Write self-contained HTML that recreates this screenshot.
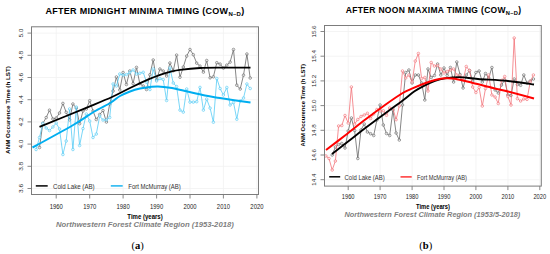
<!DOCTYPE html>
<html><head><meta charset="utf-8"><style>
html,body{margin:0;padding:0;background:#fff;width:550px;height:254px;overflow:hidden}
svg{display:block;font-family:"Liberation Sans",sans-serif}
</style></head><body>
<svg width="550" height="254" viewBox="0 0 550 254">
<rect width="550" height="254" fill="#fff"/>
<line x1="56.2" y1="26.8" x2="56.2" y2="194.5" stroke="#f1f1f1" stroke-width="0.8"/><line x1="89.7" y1="26.8" x2="89.7" y2="194.5" stroke="#f1f1f1" stroke-width="0.8"/><line x1="123.1" y1="26.8" x2="123.1" y2="194.5" stroke="#f1f1f1" stroke-width="0.8"/><line x1="156.6" y1="26.8" x2="156.6" y2="194.5" stroke="#f1f1f1" stroke-width="0.8"/><line x1="190" y1="26.8" x2="190" y2="194.5" stroke="#f1f1f1" stroke-width="0.8"/><line x1="223.4" y1="26.8" x2="223.4" y2="194.5" stroke="#f1f1f1" stroke-width="0.8"/><line x1="256.9" y1="26.8" x2="256.9" y2="194.5" stroke="#f1f1f1" stroke-width="0.8"/><line x1="31.5" y1="188.5" x2="258.5" y2="188.5" stroke="#f1f1f1" stroke-width="0.8"/><line x1="31.5" y1="166.3" x2="258.5" y2="166.3" stroke="#f1f1f1" stroke-width="0.8"/><line x1="31.5" y1="144.1" x2="258.5" y2="144.1" stroke="#f1f1f1" stroke-width="0.8"/><line x1="31.5" y1="121.9" x2="258.5" y2="121.9" stroke="#f1f1f1" stroke-width="0.8"/><line x1="31.5" y1="99.7" x2="258.5" y2="99.7" stroke="#f1f1f1" stroke-width="0.8"/><line x1="31.5" y1="77.5" x2="258.5" y2="77.5" stroke="#f1f1f1" stroke-width="0.8"/><line x1="31.5" y1="55.3" x2="258.5" y2="55.3" stroke="#f1f1f1" stroke-width="0.8"/><line x1="31.5" y1="33.1" x2="258.5" y2="33.1" stroke="#f1f1f1" stroke-width="0.8"/>
<line x1="348.2" y1="25.5" x2="348.2" y2="186.1" stroke="#f1f1f1" stroke-width="0.8"/><line x1="380.1" y1="25.5" x2="380.1" y2="186.1" stroke="#f1f1f1" stroke-width="0.8"/><line x1="412.1" y1="25.5" x2="412.1" y2="186.1" stroke="#f1f1f1" stroke-width="0.8"/><line x1="444" y1="25.5" x2="444" y2="186.1" stroke="#f1f1f1" stroke-width="0.8"/><line x1="475.9" y1="25.5" x2="475.9" y2="186.1" stroke="#f1f1f1" stroke-width="0.8"/><line x1="507.9" y1="25.5" x2="507.9" y2="186.1" stroke="#f1f1f1" stroke-width="0.8"/><line x1="539.8" y1="25.5" x2="539.8" y2="186.1" stroke="#f1f1f1" stroke-width="0.8"/><line x1="324.5" y1="179.7" x2="541.3" y2="179.7" stroke="#f1f1f1" stroke-width="0.8"/><line x1="324.5" y1="155" x2="541.3" y2="155" stroke="#f1f1f1" stroke-width="0.8"/><line x1="324.5" y1="130.3" x2="541.3" y2="130.3" stroke="#f1f1f1" stroke-width="0.8"/><line x1="324.5" y1="105.6" x2="541.3" y2="105.6" stroke="#f1f1f1" stroke-width="0.8"/><line x1="324.5" y1="80.9" x2="541.3" y2="80.9" stroke="#f1f1f1" stroke-width="0.8"/><line x1="324.5" y1="56.2" x2="541.3" y2="56.2" stroke="#f1f1f1" stroke-width="0.8"/><line x1="324.5" y1="31.5" x2="541.3" y2="31.5" stroke="#f1f1f1" stroke-width="0.8"/>
<polyline fill="none" stroke="#5e5e5e" stroke-width="0.75" stroke-linejoin="round" points="39.5,147.5 42.8,123.4 46.2,117.6 49.5,110.2 52.9,119 56.2,118 59.5,113 62.9,103.4 66.2,112.3 69.6,119.8 72.9,104 76.3,108 79.6,123.7 83,111 86.3,109 89.7,100.7 93,111 96.3,119.5 99.7,114.5 103,110.5 106.4,122 109.7,104 113.1,91 116.4,77 119.8,90 123.1,72.5 126.4,84.5 129.8,71 133.1,83.6 136.5,67.4 139.8,83.6 143.2,86 146.5,89.5 149.9,74.8 153.2,60 156.6,80 159.9,69 163.2,71 166.6,76 169.9,63 173.3,70.7 176.6,55.1 180,77.2 183.3,67 186.7,56.1 190,49.5 193.3,54.7 196.7,63.1 200,66.1 203.4,72.1 206.7,60.5 210.1,77.8 213.4,76.8 216.8,62.7 220.1,64.1 223.4,68.1 226.8,65.1 230.1,62.1 233.5,49.5 236.8,85.2 240.2,89 243.5,75.2 246.9,54 250.2,78"/><g fill="#fff" fill-opacity="0.6" stroke="#5e5e5e" stroke-width="0.6"><circle cx="39.5" cy="147.5" r="1.3"/><circle cx="42.8" cy="123.4" r="1.3"/><circle cx="46.2" cy="117.6" r="1.3"/><circle cx="49.5" cy="110.2" r="1.3"/><circle cx="52.9" cy="119" r="1.3"/><circle cx="56.2" cy="118" r="1.3"/><circle cx="59.5" cy="113" r="1.3"/><circle cx="62.9" cy="103.4" r="1.3"/><circle cx="66.2" cy="112.3" r="1.3"/><circle cx="69.6" cy="119.8" r="1.3"/><circle cx="72.9" cy="104" r="1.3"/><circle cx="76.3" cy="108" r="1.3"/><circle cx="79.6" cy="123.7" r="1.3"/><circle cx="83" cy="111" r="1.3"/><circle cx="86.3" cy="109" r="1.3"/><circle cx="89.7" cy="100.7" r="1.3"/><circle cx="93" cy="111" r="1.3"/><circle cx="96.3" cy="119.5" r="1.3"/><circle cx="99.7" cy="114.5" r="1.3"/><circle cx="103" cy="110.5" r="1.3"/><circle cx="106.4" cy="122" r="1.3"/><circle cx="109.7" cy="104" r="1.3"/><circle cx="113.1" cy="91" r="1.3"/><circle cx="116.4" cy="77" r="1.3"/><circle cx="119.8" cy="90" r="1.3"/><circle cx="123.1" cy="72.5" r="1.3"/><circle cx="126.4" cy="84.5" r="1.3"/><circle cx="129.8" cy="71" r="1.3"/><circle cx="133.1" cy="83.6" r="1.3"/><circle cx="136.5" cy="67.4" r="1.3"/><circle cx="139.8" cy="83.6" r="1.3"/><circle cx="143.2" cy="86" r="1.3"/><circle cx="146.5" cy="89.5" r="1.3"/><circle cx="149.9" cy="74.8" r="1.3"/><circle cx="153.2" cy="60" r="1.3"/><circle cx="156.6" cy="80" r="1.3"/><circle cx="159.9" cy="69" r="1.3"/><circle cx="163.2" cy="71" r="1.3"/><circle cx="166.6" cy="76" r="1.3"/><circle cx="169.9" cy="63" r="1.3"/><circle cx="173.3" cy="70.7" r="1.3"/><circle cx="176.6" cy="55.1" r="1.3"/><circle cx="180" cy="77.2" r="1.3"/><circle cx="183.3" cy="67" r="1.3"/><circle cx="186.7" cy="56.1" r="1.3"/><circle cx="190" cy="49.5" r="1.3"/><circle cx="193.3" cy="54.7" r="1.3"/><circle cx="196.7" cy="63.1" r="1.3"/><circle cx="200" cy="66.1" r="1.3"/><circle cx="203.4" cy="72.1" r="1.3"/><circle cx="206.7" cy="60.5" r="1.3"/><circle cx="210.1" cy="77.8" r="1.3"/><circle cx="213.4" cy="76.8" r="1.3"/><circle cx="216.8" cy="62.7" r="1.3"/><circle cx="220.1" cy="64.1" r="1.3"/><circle cx="223.4" cy="68.1" r="1.3"/><circle cx="226.8" cy="65.1" r="1.3"/><circle cx="230.1" cy="62.1" r="1.3"/><circle cx="233.5" cy="49.5" r="1.3"/><circle cx="236.8" cy="85.2" r="1.3"/><circle cx="240.2" cy="89" r="1.3"/><circle cx="243.5" cy="75.2" r="1.3"/><circle cx="246.9" cy="54" r="1.3"/><circle cx="250.2" cy="78" r="1.3"/></g>
<polyline fill="none" stroke="#4cc8f4" stroke-width="0.75" stroke-linejoin="round" points="36.1,149.5 39.5,137.5 42.8,123.5 46.2,128 49.5,130.5 52.9,127 56.2,123 59.5,129 62.9,154.5 66.2,141 69.6,109 72.9,149.5 76.3,107 79.6,145.5 83,128.6 86.3,114 89.7,121 93,137.5 96.3,134 99.7,116 103,120 106.4,120 109.7,117.5 113.1,84 116.4,86 119.8,74 123.1,75 126.4,74.5 129.8,72.5 133.1,70 136.5,74 139.8,73.3 143.2,72.3 146.5,82.2 149.9,89.5 153.2,69 156.6,81 159.9,78.5 163.2,79.5 166.6,100.5 169.9,68 173.3,83 176.6,86.6 180,110.1 183.3,112.1 186.7,89 190,102.1 193.3,102.1 196.7,101.7 200,87.4 203.4,110.1 206.7,99.1 210.1,108.1 213.4,122.2 216.8,78.5 220.1,88.5 223.4,95 226.8,87.5 230.1,105 233.5,102.5 236.8,119.2 240.2,101 243.5,98 246.9,84 250.2,88.5"/><g fill="#fff" fill-opacity="0.6" stroke="#4cc8f4" stroke-width="0.6"><circle cx="36.1" cy="149.5" r="1.3"/><circle cx="39.5" cy="137.5" r="1.3"/><circle cx="42.8" cy="123.5" r="1.3"/><circle cx="46.2" cy="128" r="1.3"/><circle cx="49.5" cy="130.5" r="1.3"/><circle cx="52.9" cy="127" r="1.3"/><circle cx="56.2" cy="123" r="1.3"/><circle cx="59.5" cy="129" r="1.3"/><circle cx="62.9" cy="154.5" r="1.3"/><circle cx="66.2" cy="141" r="1.3"/><circle cx="69.6" cy="109" r="1.3"/><circle cx="72.9" cy="149.5" r="1.3"/><circle cx="76.3" cy="107" r="1.3"/><circle cx="79.6" cy="145.5" r="1.3"/><circle cx="83" cy="128.6" r="1.3"/><circle cx="86.3" cy="114" r="1.3"/><circle cx="89.7" cy="121" r="1.3"/><circle cx="93" cy="137.5" r="1.3"/><circle cx="96.3" cy="134" r="1.3"/><circle cx="99.7" cy="116" r="1.3"/><circle cx="103" cy="120" r="1.3"/><circle cx="106.4" cy="120" r="1.3"/><circle cx="109.7" cy="117.5" r="1.3"/><circle cx="113.1" cy="84" r="1.3"/><circle cx="116.4" cy="86" r="1.3"/><circle cx="119.8" cy="74" r="1.3"/><circle cx="123.1" cy="75" r="1.3"/><circle cx="126.4" cy="74.5" r="1.3"/><circle cx="129.8" cy="72.5" r="1.3"/><circle cx="133.1" cy="70" r="1.3"/><circle cx="136.5" cy="74" r="1.3"/><circle cx="139.8" cy="73.3" r="1.3"/><circle cx="143.2" cy="72.3" r="1.3"/><circle cx="146.5" cy="82.2" r="1.3"/><circle cx="149.9" cy="89.5" r="1.3"/><circle cx="153.2" cy="69" r="1.3"/><circle cx="156.6" cy="81" r="1.3"/><circle cx="159.9" cy="78.5" r="1.3"/><circle cx="163.2" cy="79.5" r="1.3"/><circle cx="166.6" cy="100.5" r="1.3"/><circle cx="169.9" cy="68" r="1.3"/><circle cx="173.3" cy="83" r="1.3"/><circle cx="176.6" cy="86.6" r="1.3"/><circle cx="180" cy="110.1" r="1.3"/><circle cx="183.3" cy="112.1" r="1.3"/><circle cx="186.7" cy="89" r="1.3"/><circle cx="190" cy="102.1" r="1.3"/><circle cx="193.3" cy="102.1" r="1.3"/><circle cx="196.7" cy="101.7" r="1.3"/><circle cx="200" cy="87.4" r="1.3"/><circle cx="203.4" cy="110.1" r="1.3"/><circle cx="206.7" cy="99.1" r="1.3"/><circle cx="210.1" cy="108.1" r="1.3"/><circle cx="213.4" cy="122.2" r="1.3"/><circle cx="216.8" cy="78.5" r="1.3"/><circle cx="220.1" cy="88.5" r="1.3"/><circle cx="223.4" cy="95" r="1.3"/><circle cx="226.8" cy="87.5" r="1.3"/><circle cx="230.1" cy="105" r="1.3"/><circle cx="233.5" cy="102.5" r="1.3"/><circle cx="236.8" cy="119.2" r="1.3"/><circle cx="240.2" cy="101" r="1.3"/><circle cx="243.5" cy="98" r="1.3"/><circle cx="246.9" cy="84" r="1.3"/><circle cx="250.2" cy="88.5" r="1.3"/></g>
<path fill="none" stroke="#000" stroke-width="1.85" stroke-linecap="butt" d="M39.5,126.9 C47.1,123.8 72.9,113.3 85,108.3 C97.1,103.3 104.5,100.4 112,97 C119.5,93.6 123.8,91 130,88 C136.2,85 144,81.4 149,79.2 C154,77 156.5,76 160,74.8 C163.5,73.6 166.7,72.6 170,71.8 C173.3,71 175,70.4 180,69.8 C185,69.2 192.5,68.4 200,68 C207.5,67.6 216.6,67.7 225,67.6 C233.4,67.5 246.2,67.6 250.5,67.6"/>
<path fill="none" stroke="#00aef0" stroke-width="2.0" stroke-linecap="butt" d="M32.5,147.5 C39.3,143.8 63,130.9 73.2,125 C83.4,119.1 87.2,115.8 93.5,112 C99.8,108.2 106.6,105.2 111,102.5 C115.4,99.8 116.8,97.8 120,96 C123.2,94.2 126.7,92.8 130,91.5 C133.3,90.2 136.7,89.2 140,88.5 C143.3,87.8 147,87.3 150,87 C153,86.7 154.7,86.4 158,86.5 C161.3,86.6 165.5,87 170,87.8 C174.5,88.5 179.2,89.7 185,91 C190.8,92.3 199.2,94.3 205,95.5 C210.8,96.7 212.4,96.8 220,98 C227.6,99.2 245.4,101.8 250.5,102.5"/>
<polyline fill="none" stroke="#5e5e5e" stroke-width="0.75" stroke-linejoin="round" points="332.2,155 335.4,147 338.6,144.5 341.8,143.5 345,148 348.2,131 351.4,118 354.6,130.5 357.8,158.5 361,130 364.2,124 367.4,132 370.6,133.7 373.7,135.5 376.9,120 380.1,105 383.3,125 386.5,133.5 389.7,135.5 392.9,110 396.1,133 399.3,140 402.5,105 405.7,72.5 408.9,70 412.1,83 415.3,75 418.4,75 421.6,83 424.8,100 428,69 431.2,77.5 434.4,75.5 437.6,64 440.8,75 444,68 447.2,75.5 450.4,67.5 453.6,82 456.8,62 460,74.5 463.1,88 466.3,75 469.5,70.5 472.7,81 475.9,72.5 479.1,71 482.3,82 485.5,73.5 488.7,78 491.9,67.5 495.1,90 498.3,93 501.5,85 504.7,80 507.9,95 511,95.5 514.2,79 517.4,84.5 520.6,85.3 523.8,75 527,83 530.2,81 533.4,79"/><g fill="#fff" fill-opacity="0.6" stroke="#5e5e5e" stroke-width="0.6"><circle cx="332.2" cy="155" r="1.3"/><circle cx="335.4" cy="147" r="1.3"/><circle cx="338.6" cy="144.5" r="1.3"/><circle cx="341.8" cy="143.5" r="1.3"/><circle cx="345" cy="148" r="1.3"/><circle cx="348.2" cy="131" r="1.3"/><circle cx="351.4" cy="118" r="1.3"/><circle cx="354.6" cy="130.5" r="1.3"/><circle cx="357.8" cy="158.5" r="1.3"/><circle cx="361" cy="130" r="1.3"/><circle cx="364.2" cy="124" r="1.3"/><circle cx="367.4" cy="132" r="1.3"/><circle cx="370.6" cy="133.7" r="1.3"/><circle cx="373.7" cy="135.5" r="1.3"/><circle cx="376.9" cy="120" r="1.3"/><circle cx="380.1" cy="105" r="1.3"/><circle cx="383.3" cy="125" r="1.3"/><circle cx="386.5" cy="133.5" r="1.3"/><circle cx="389.7" cy="135.5" r="1.3"/><circle cx="392.9" cy="110" r="1.3"/><circle cx="396.1" cy="133" r="1.3"/><circle cx="399.3" cy="140" r="1.3"/><circle cx="402.5" cy="105" r="1.3"/><circle cx="405.7" cy="72.5" r="1.3"/><circle cx="408.9" cy="70" r="1.3"/><circle cx="412.1" cy="83" r="1.3"/><circle cx="415.3" cy="75" r="1.3"/><circle cx="418.4" cy="75" r="1.3"/><circle cx="421.6" cy="83" r="1.3"/><circle cx="424.8" cy="100" r="1.3"/><circle cx="428" cy="69" r="1.3"/><circle cx="431.2" cy="77.5" r="1.3"/><circle cx="434.4" cy="75.5" r="1.3"/><circle cx="437.6" cy="64" r="1.3"/><circle cx="440.8" cy="75" r="1.3"/><circle cx="444" cy="68" r="1.3"/><circle cx="447.2" cy="75.5" r="1.3"/><circle cx="450.4" cy="67.5" r="1.3"/><circle cx="453.6" cy="82" r="1.3"/><circle cx="456.8" cy="62" r="1.3"/><circle cx="460" cy="74.5" r="1.3"/><circle cx="463.1" cy="88" r="1.3"/><circle cx="466.3" cy="75" r="1.3"/><circle cx="469.5" cy="70.5" r="1.3"/><circle cx="472.7" cy="81" r="1.3"/><circle cx="475.9" cy="72.5" r="1.3"/><circle cx="479.1" cy="71" r="1.3"/><circle cx="482.3" cy="82" r="1.3"/><circle cx="485.5" cy="73.5" r="1.3"/><circle cx="488.7" cy="78" r="1.3"/><circle cx="491.9" cy="67.5" r="1.3"/><circle cx="495.1" cy="90" r="1.3"/><circle cx="498.3" cy="93" r="1.3"/><circle cx="501.5" cy="85" r="1.3"/><circle cx="504.7" cy="80" r="1.3"/><circle cx="507.9" cy="95" r="1.3"/><circle cx="511" cy="95.5" r="1.3"/><circle cx="514.2" cy="79" r="1.3"/><circle cx="517.4" cy="84.5" r="1.3"/><circle cx="520.6" cy="85.3" r="1.3"/><circle cx="523.8" cy="75" r="1.3"/><circle cx="527" cy="83" r="1.3"/><circle cx="530.2" cy="81" r="1.3"/><circle cx="533.4" cy="79" r="1.3"/></g>
<polyline fill="none" stroke="#f26a70" stroke-width="0.75" stroke-linejoin="round" points="325.9,156 329,158.5 332.2,170 335.4,161 338.6,126 341.8,125.5 345,115.5 348.2,123 351.4,87 354.6,124 357.8,119.5 361,116.5 364.2,115 367.4,113.3 370.6,118.5 373.7,114 376.9,109.5 380.1,111 383.3,110.8 386.5,115.3 389.7,108 392.9,108.4 396.1,119.7 399.3,105.9 402.5,71 405.7,78 408.9,75 412.1,82 415.3,61 418.4,53.5 421.6,78.5 424.8,77.5 428,91 431.2,62.5 434.4,66 437.6,65.5 440.8,69 444,73 447.2,71.5 450.4,70 453.6,69 456.8,75 460,76 463.1,80 466.3,66.5 469.5,70.5 472.7,87 475.9,92.5 479.1,87.5 482.3,106 485.5,88.5 488.7,75 491.9,95 495.1,97 498.3,103.5 501.5,80.5 504.7,76.5 507.9,96.5 511,105 514.2,38 517.4,98.7 520.6,101 523.8,99 527,99.4 530.2,82 533.4,75"/><g fill="#fff" fill-opacity="0.6" stroke="#f26a70" stroke-width="0.6"><circle cx="325.9" cy="156" r="1.3"/><circle cx="329" cy="158.5" r="1.3"/><circle cx="332.2" cy="170" r="1.3"/><circle cx="335.4" cy="161" r="1.3"/><circle cx="338.6" cy="126" r="1.3"/><circle cx="341.8" cy="125.5" r="1.3"/><circle cx="345" cy="115.5" r="1.3"/><circle cx="348.2" cy="123" r="1.3"/><circle cx="351.4" cy="87" r="1.3"/><circle cx="354.6" cy="124" r="1.3"/><circle cx="357.8" cy="119.5" r="1.3"/><circle cx="361" cy="116.5" r="1.3"/><circle cx="364.2" cy="115" r="1.3"/><circle cx="367.4" cy="113.3" r="1.3"/><circle cx="370.6" cy="118.5" r="1.3"/><circle cx="373.7" cy="114" r="1.3"/><circle cx="376.9" cy="109.5" r="1.3"/><circle cx="380.1" cy="111" r="1.3"/><circle cx="383.3" cy="110.8" r="1.3"/><circle cx="386.5" cy="115.3" r="1.3"/><circle cx="389.7" cy="108" r="1.3"/><circle cx="392.9" cy="108.4" r="1.3"/><circle cx="396.1" cy="119.7" r="1.3"/><circle cx="399.3" cy="105.9" r="1.3"/><circle cx="402.5" cy="71" r="1.3"/><circle cx="405.7" cy="78" r="1.3"/><circle cx="408.9" cy="75" r="1.3"/><circle cx="412.1" cy="82" r="1.3"/><circle cx="415.3" cy="61" r="1.3"/><circle cx="418.4" cy="53.5" r="1.3"/><circle cx="421.6" cy="78.5" r="1.3"/><circle cx="424.8" cy="77.5" r="1.3"/><circle cx="428" cy="91" r="1.3"/><circle cx="431.2" cy="62.5" r="1.3"/><circle cx="434.4" cy="66" r="1.3"/><circle cx="437.6" cy="65.5" r="1.3"/><circle cx="440.8" cy="69" r="1.3"/><circle cx="444" cy="73" r="1.3"/><circle cx="447.2" cy="71.5" r="1.3"/><circle cx="450.4" cy="70" r="1.3"/><circle cx="453.6" cy="69" r="1.3"/><circle cx="456.8" cy="75" r="1.3"/><circle cx="460" cy="76" r="1.3"/><circle cx="463.1" cy="80" r="1.3"/><circle cx="466.3" cy="66.5" r="1.3"/><circle cx="469.5" cy="70.5" r="1.3"/><circle cx="472.7" cy="87" r="1.3"/><circle cx="475.9" cy="92.5" r="1.3"/><circle cx="479.1" cy="87.5" r="1.3"/><circle cx="482.3" cy="106" r="1.3"/><circle cx="485.5" cy="88.5" r="1.3"/><circle cx="488.7" cy="75" r="1.3"/><circle cx="491.9" cy="95" r="1.3"/><circle cx="495.1" cy="97" r="1.3"/><circle cx="498.3" cy="103.5" r="1.3"/><circle cx="501.5" cy="80.5" r="1.3"/><circle cx="504.7" cy="76.5" r="1.3"/><circle cx="507.9" cy="96.5" r="1.3"/><circle cx="511" cy="105" r="1.3"/><circle cx="514.2" cy="38" r="1.3"/><circle cx="517.4" cy="98.7" r="1.3"/><circle cx="520.6" cy="101" r="1.3"/><circle cx="523.8" cy="99" r="1.3"/><circle cx="527" cy="99.4" r="1.3"/><circle cx="530.2" cy="82" r="1.3"/><circle cx="533.4" cy="75" r="1.3"/></g>
<path fill="none" stroke="#000" stroke-width="1.85" stroke-linecap="butt" d="M332,154 C335,151.7 344.5,144.3 350,140 C355.5,135.7 359.2,132.7 365,128.3 C370.8,123.9 378.7,118.1 385,113.5 C391.3,108.9 397.8,104.3 402.7,100.6 C407.6,96.9 410.8,93.8 414.5,91.2 C418.2,88.7 421.6,87 425,85.3 C428.4,83.6 431.7,82 435,80.8 C438.3,79.6 440.8,78.9 445,78.3 C449.2,77.7 454.5,77.1 460,77.2 C465.5,77.3 470,78.4 478,79 C486,79.6 498.7,80.1 508,81 C517.3,81.9 529.7,83.9 534,84.5"/>
<path fill="none" stroke="#f00" stroke-width="2.0" stroke-linecap="butt" d="M326,150 C329.2,147.6 338.5,140.5 345,135.5 C351.5,130.5 358.3,124.9 365,119.8 C371.7,114.7 378.7,109.5 385,105 C391.3,100.5 398,95.8 402.7,93 C407.4,90.2 409.3,89.8 413,88.2 C416.7,86.6 421.3,84.7 425,83.3 C428.7,81.9 431.7,80.8 435,80 C438.3,79.2 441.7,78.5 445,78.3 C448.3,78.1 450.3,78 455,78.8 C459.7,79.6 466.7,81.5 473,83 C479.3,84.5 487.2,86.6 493,88 C498.8,89.4 501.2,89.8 508,91.5 C514.8,93.2 529.7,97.3 534,98.5"/>
<rect x="31.5" y="26.8" width="227" height="167.7" fill="none" stroke="#7c7c7c" stroke-width="1.0"/><line x1="56.2" y1="194.5" x2="56.2" y2="198.5" stroke="#7c7c7c" stroke-width="0.9"/><g transform="translate(56.2,208.6) scale(1,1.3)"><text x="0" y="0" font-size="5.9" text-anchor="middle" fill="#222">1960</text></g><line x1="89.7" y1="194.5" x2="89.7" y2="198.5" stroke="#7c7c7c" stroke-width="0.9"/><g transform="translate(89.7,208.6) scale(1,1.3)"><text x="0" y="0" font-size="5.9" text-anchor="middle" fill="#222">1970</text></g><line x1="123.1" y1="194.5" x2="123.1" y2="198.5" stroke="#7c7c7c" stroke-width="0.9"/><g transform="translate(123.1,208.6) scale(1,1.3)"><text x="0" y="0" font-size="5.9" text-anchor="middle" fill="#222">1980</text></g><line x1="156.6" y1="194.5" x2="156.6" y2="198.5" stroke="#7c7c7c" stroke-width="0.9"/><g transform="translate(156.6,208.6) scale(1,1.3)"><text x="0" y="0" font-size="5.9" text-anchor="middle" fill="#222">1990</text></g><line x1="190" y1="194.5" x2="190" y2="198.5" stroke="#7c7c7c" stroke-width="0.9"/><g transform="translate(190,208.6) scale(1,1.3)"><text x="0" y="0" font-size="5.9" text-anchor="middle" fill="#222">2000</text></g><line x1="223.4" y1="194.5" x2="223.4" y2="198.5" stroke="#7c7c7c" stroke-width="0.9"/><g transform="translate(223.4,208.6) scale(1,1.3)"><text x="0" y="0" font-size="5.9" text-anchor="middle" fill="#222">2010</text></g><line x1="256.9" y1="194.5" x2="256.9" y2="198.5" stroke="#7c7c7c" stroke-width="0.9"/><g transform="translate(256.9,208.6) scale(1,1.3)"><text x="0" y="0" font-size="5.9" text-anchor="middle" fill="#222">2020</text></g><line x1="27.5" y1="188.5" x2="31.5" y2="188.5" stroke="#7c7c7c" stroke-width="0.9"/><text transform="translate(22.6,188.5) rotate(-90) scale(1,0.87)" font-size="6.490000000000001" text-anchor="middle" fill="#222">3.6</text><line x1="27.5" y1="166.3" x2="31.5" y2="166.3" stroke="#7c7c7c" stroke-width="0.9"/><text transform="translate(22.6,166.3) rotate(-90) scale(1,0.87)" font-size="6.490000000000001" text-anchor="middle" fill="#222">3.8</text><line x1="27.5" y1="144.1" x2="31.5" y2="144.1" stroke="#7c7c7c" stroke-width="0.9"/><text transform="translate(22.6,144.1) rotate(-90) scale(1,0.87)" font-size="6.490000000000001" text-anchor="middle" fill="#222">4.0</text><line x1="27.5" y1="121.9" x2="31.5" y2="121.9" stroke="#7c7c7c" stroke-width="0.9"/><text transform="translate(22.6,121.9) rotate(-90) scale(1,0.87)" font-size="6.490000000000001" text-anchor="middle" fill="#222">4.2</text><line x1="27.5" y1="99.7" x2="31.5" y2="99.7" stroke="#7c7c7c" stroke-width="0.9"/><text transform="translate(22.6,99.7) rotate(-90) scale(1,0.87)" font-size="6.490000000000001" text-anchor="middle" fill="#222">4.4</text><line x1="27.5" y1="77.5" x2="31.5" y2="77.5" stroke="#7c7c7c" stroke-width="0.9"/><text transform="translate(22.6,77.5) rotate(-90) scale(1,0.87)" font-size="6.490000000000001" text-anchor="middle" fill="#222">4.6</text><line x1="27.5" y1="55.3" x2="31.5" y2="55.3" stroke="#7c7c7c" stroke-width="0.9"/><text transform="translate(22.6,55.3) rotate(-90) scale(1,0.87)" font-size="6.490000000000001" text-anchor="middle" fill="#222">4.8</text><line x1="27.5" y1="33.1" x2="31.5" y2="33.1" stroke="#7c7c7c" stroke-width="0.9"/><text transform="translate(22.6,33.1) rotate(-90) scale(1,0.87)" font-size="6.490000000000001" text-anchor="middle" fill="#222">5.0</text>
<rect x="324.5" y="25.5" width="216.8" height="160.6" fill="none" stroke="#7c7c7c" stroke-width="1.0"/><line x1="348.2" y1="186.1" x2="348.2" y2="190.1" stroke="#7c7c7c" stroke-width="0.9"/><g transform="translate(348.2,198.9) scale(1,1.3)"><text x="0" y="0" font-size="5.7" text-anchor="middle" fill="#222">1960</text></g><line x1="380.1" y1="186.1" x2="380.1" y2="190.1" stroke="#7c7c7c" stroke-width="0.9"/><g transform="translate(380.1,198.9) scale(1,1.3)"><text x="0" y="0" font-size="5.7" text-anchor="middle" fill="#222">1970</text></g><line x1="412.1" y1="186.1" x2="412.1" y2="190.1" stroke="#7c7c7c" stroke-width="0.9"/><g transform="translate(412.1,198.9) scale(1,1.3)"><text x="0" y="0" font-size="5.7" text-anchor="middle" fill="#222">1980</text></g><line x1="444" y1="186.1" x2="444" y2="190.1" stroke="#7c7c7c" stroke-width="0.9"/><g transform="translate(444,198.9) scale(1,1.3)"><text x="0" y="0" font-size="5.7" text-anchor="middle" fill="#222">1990</text></g><line x1="475.9" y1="186.1" x2="475.9" y2="190.1" stroke="#7c7c7c" stroke-width="0.9"/><g transform="translate(475.9,198.9) scale(1,1.3)"><text x="0" y="0" font-size="5.7" text-anchor="middle" fill="#222">2000</text></g><line x1="507.9" y1="186.1" x2="507.9" y2="190.1" stroke="#7c7c7c" stroke-width="0.9"/><g transform="translate(507.9,198.9) scale(1,1.3)"><text x="0" y="0" font-size="5.7" text-anchor="middle" fill="#222">2010</text></g><line x1="539.8" y1="186.1" x2="539.8" y2="190.1" stroke="#7c7c7c" stroke-width="0.9"/><g transform="translate(539.8,198.9) scale(1,1.3)"><text x="0" y="0" font-size="5.7" text-anchor="middle" fill="#222">2020</text></g><line x1="320.5" y1="179.7" x2="324.5" y2="179.7" stroke="#7c7c7c" stroke-width="0.9"/><text transform="translate(316,179.7) rotate(-90) scale(1,0.87)" font-size="6.2700000000000005" text-anchor="middle" fill="#222">14.4</text><line x1="320.5" y1="155" x2="324.5" y2="155" stroke="#7c7c7c" stroke-width="0.9"/><text transform="translate(316,155) rotate(-90) scale(1,0.87)" font-size="6.2700000000000005" text-anchor="middle" fill="#222">14.6</text><line x1="320.5" y1="130.3" x2="324.5" y2="130.3" stroke="#7c7c7c" stroke-width="0.9"/><text transform="translate(316,130.3) rotate(-90) scale(1,0.87)" font-size="6.2700000000000005" text-anchor="middle" fill="#222">14.8</text><line x1="320.5" y1="105.6" x2="324.5" y2="105.6" stroke="#7c7c7c" stroke-width="0.9"/><text transform="translate(316,105.6) rotate(-90) scale(1,0.87)" font-size="6.2700000000000005" text-anchor="middle" fill="#222">15.0</text><line x1="320.5" y1="80.9" x2="324.5" y2="80.9" stroke="#7c7c7c" stroke-width="0.9"/><text transform="translate(316,80.9) rotate(-90) scale(1,0.87)" font-size="6.2700000000000005" text-anchor="middle" fill="#222">15.2</text><line x1="320.5" y1="56.2" x2="324.5" y2="56.2" stroke="#7c7c7c" stroke-width="0.9"/><text transform="translate(316,56.2) rotate(-90) scale(1,0.87)" font-size="6.2700000000000005" text-anchor="middle" fill="#222">15.4</text><line x1="320.5" y1="31.5" x2="324.5" y2="31.5" stroke="#7c7c7c" stroke-width="0.9"/><text transform="translate(316,31.5) rotate(-90) scale(1,0.87)" font-size="6.2700000000000005" text-anchor="middle" fill="#222">15.6</text>
<line x1="35.8" y1="185.9" x2="47.7" y2="185.9" stroke="#000" stroke-width="1.5"/>
<g transform="translate(53,189) scale(1,1.2)"><text x="0" y="0" font-size="6.15" text-anchor="start" fill="#333">Cold Lake (AB)</text></g>
<line x1="110.8" y1="185.9" x2="122.7" y2="185.9" stroke="#1ab4f0" stroke-width="1.5"/>
<g transform="translate(128.3,189) scale(1,1.2)"><text x="0" y="0" font-size="6.0" text-anchor="start" fill="#333">Fort McMurray (AB)</text></g>
<line x1="329.2" y1="176.8" x2="340.2" y2="176.8" stroke="#000" stroke-width="1.5"/>
<g transform="translate(344.6,180) scale(1,1.2)"><text x="0" y="0" font-size="5.93" text-anchor="start" fill="#333">Cold Lake (AB)</text></g>
<line x1="400.5" y1="176.9" x2="411.7" y2="176.9" stroke="#f33" stroke-width="1.5"/>
<g transform="translate(417.1,180) scale(1,1.2)"><text x="0" y="0" font-size="5.7" text-anchor="start" fill="#333">Fort McMurray (AB)</text></g>
<g transform="translate(45.5,14) scale(1,1.0)"><text x="0" y="0" font-size="9.0" text-anchor="start" font-weight="bold" fill="#000" letter-spacing="0.28">AFTER MIDNIGHT MINIMA TIMING (COW<tspan font-size="6.0" dy="1.5">N–D</tspan><tspan dy="-1.5">)</tspan></text></g>
<g transform="translate(345.8,13.4) scale(1,1.0)"><text x="0" y="0" font-size="8.5" text-anchor="start" font-weight="bold" fill="#000" letter-spacing="0.32">AFTER NOON MAXIMA TIMING (COW<tspan font-size="5.7" dy="1.5">N–D</tspan><tspan dy="-1.5">)</tspan></text></g>
<text transform="translate(10.2,110) rotate(-90) scale(1,0.87)" font-size="6.27" font-weight="bold" text-anchor="middle" fill="#000">ANM Occurence Time (h LST)</text>
<text transform="translate(304.7,105.2) rotate(-90) scale(1,0.87)" font-size="5.88" font-weight="bold" text-anchor="middle" fill="#000">ANM Occurence Time (h LST)</text>
<g transform="translate(145,218.7) scale(1,1.1)"><text x="0" y="0" font-size="6.04" text-anchor="middle" font-weight="bold" fill="#000">Time (years)</text></g>
<g transform="translate(433,208.6) scale(1,1.1)"><text x="0" y="0" font-size="5.79" text-anchor="middle" font-weight="bold" fill="#000">Time (years)</text></g>
<g transform="translate(56,227) scale(1,1.05)"><text x="0" y="0" font-size="7.72" text-anchor="start" font-weight="bold" font-style="italic" fill="#7f7f7f">Northwestern Forest Climate Region (1953-2018)</text></g>
<g transform="translate(344.4,217) scale(1,1.05)"><text x="0" y="0" font-size="7.38" text-anchor="start" font-weight="bold" font-style="italic" fill="#7f7f7f">Northwestern Forest Climate Region (1953/5-2018)</text></g>
<g transform="translate(137.6,248.6) scale(1,1.05)"><text x="0" y="0" font-size="10.6" text-anchor="middle" font-family="Liberation Serif, serif" fill="#000">(<tspan font-weight="bold">a</tspan>)</text></g>
<g transform="translate(425.8,248.6) scale(1,1.05)"><text x="0" y="0" font-size="10.6" text-anchor="middle" font-family="Liberation Serif, serif" fill="#000">(<tspan font-weight="bold">b</tspan>)</text></g>
</svg>
</body></html>
